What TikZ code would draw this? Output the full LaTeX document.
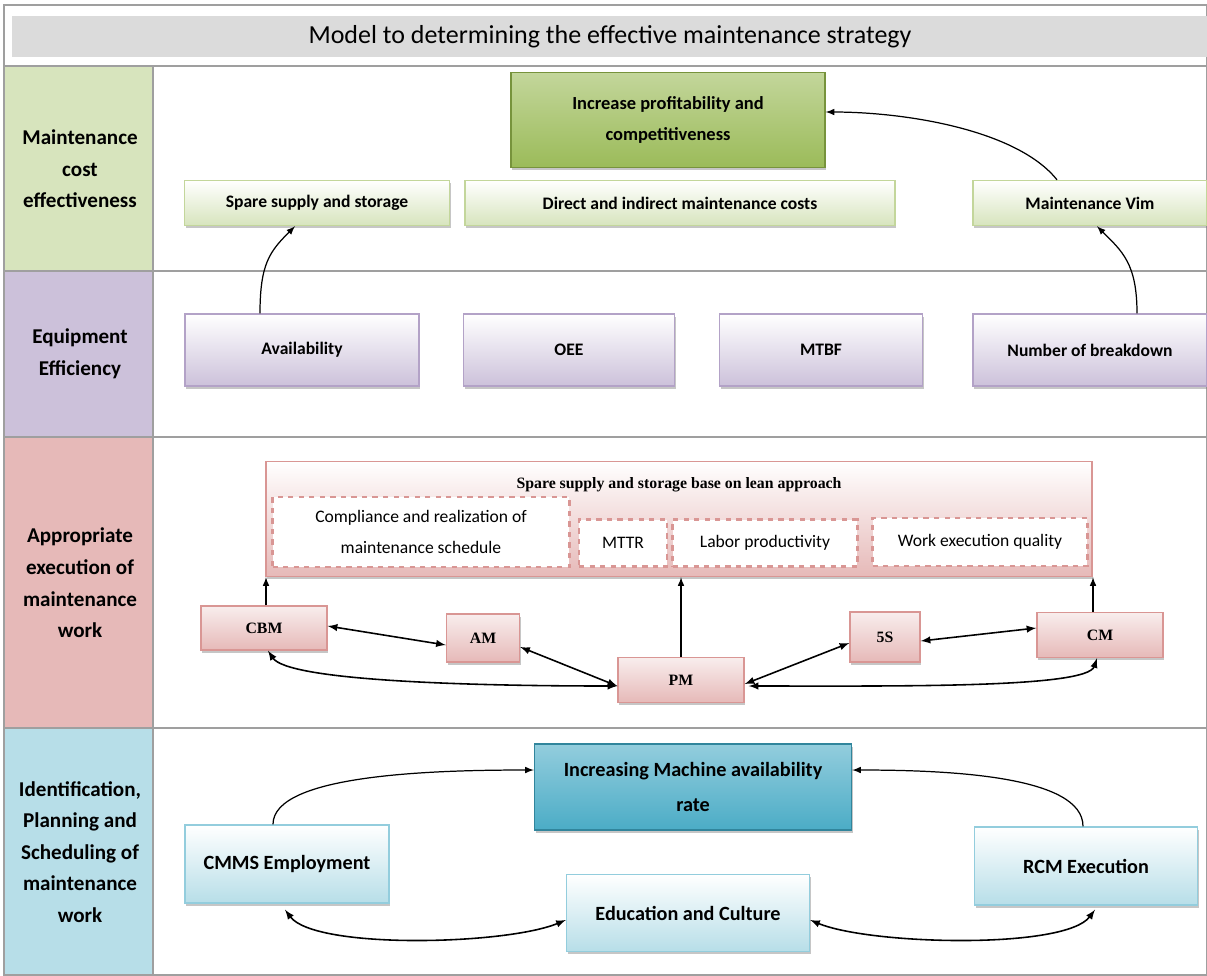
\documentclass[tikz,border=0pt]{standalone}
\usepackage{fontspec}
\setmainfont{Carlito}
\newfontfamily\timesfont{Liberation Serif}
\usetikzlibrary{calc,shadows}

\definecolor{GreenBand}{HTML}{D7E4BD}
\definecolor{GreenEdge}{HTML}{C3D69B}
\definecolor{GreenDark}{HTML}{9BBB59}
\definecolor{GreenLine}{HTML}{77933C}
\definecolor{PurpleBand}{HTML}{CCC1DA}
\definecolor{PurpleEdge}{HTML}{B3A2C7}
\definecolor{PinkBand}{HTML}{E6B9B8}
\definecolor{PinkLight}{HTML}{F2DCDB}
\definecolor{PinkEdge}{HTML}{D99694}
\definecolor{BlueBand}{HTML}{B7DEE8}
\definecolor{BlueEdge}{HTML}{93CDDD}
\definecolor{BlueDark}{HTML}{4BACC6}
\definecolor{BlueLine}{HTML}{31859C}

\tikzset{
  frame/.style={draw=gray!75, line width=1pt},
  boxshadow/.style={drop shadow={shadow xshift=0.6pt,shadow yshift=-1.6pt,opacity=0.45}},
  rowlabel/.style={align=center, font=\bfseries\fontsize{12}{18}\selectfont},
  greenbox/.style={draw=GreenEdge, line width=0.8pt, top color=white, bottom color=GreenBand, boxshadow,
    inner sep=2pt, font=\bfseries\fontsize{10}{12}\selectfont},
  purplebox/.style={draw=PurpleEdge, line width=0.8pt, top color=white, bottom color=PurpleBand, boxshadow,
    inner sep=2pt, font=\bfseries\fontsize{10}{12}\selectfont},
  pinkbox/.style={draw=PinkEdge, line width=0.8pt, top color=PinkLight!50, bottom color=PinkBand, boxshadow,
    inner sep=2pt, font=\timesfont\bfseries\fontsize{9}{11}\selectfont},
  dashbox/.style={draw=PinkEdge, dashed, line width=1.2pt, fill=white, inner sep=2pt,
    align=center, font=\fontsize{10}{18}\selectfont},
  bluebox/.style={draw=BlueEdge, line width=0.8pt, top color=white, bottom color=BlueBand, boxshadow,
    inner sep=2pt, font=\bfseries\fontsize{11.5}{14}\selectfont},
  link/.style={->, line width=0.7pt},
  dlink/.style={<->, line width=0.9pt}
}

\begin{document}
\begin{tikzpicture}[x=0.02cm,y=-0.02cm,>=latex]
\useasboundingbox (0,0) rectangle (1207,975);

% left column
\fill[GreenBand] (5,66) rectangle (153,271);
\fill[PurpleBand] (5,271) rectangle (153,437);
\fill[PinkBand] (5,437) rectangle (153,728);
\fill[BlueBand] (5,728) rectangle (153,975);

% frame and title
\draw[frame] (4,5) rectangle (1207,975);
\fill[gray!28] (12,16) rectangle (1207,57);
\node[font=\fontsize{14.8}{16}\selectfont] (title) at (610,37) {Model to determining the effective maintenance strategy};
\draw[frame] (4,66) -- (1207,66);
\draw[frame] (4,271) -- (1207,271);
\draw[frame] (4,437) -- (1207,437);
\draw[frame] (4,728) -- (1207,728);
\draw[frame] (153,66) -- (153,975);

\node[rowlabel] (row1) at (80,169) {Maintenance\\cost\\effectiveness};
\node[rowlabel] (row2) at (80,354) {Equipment\\Efficiency};
\node[rowlabel] (row3) at (80,583) {Appropriate\\execution of\\maintenance\\work};
\node[rowlabel] (row4) at (80,852) {Identification,\\Planning and\\Scheduling of\\maintenance\\work};

% cost effectiveness
\node[greenbox, draw=GreenLine, top color=GreenEdge, bottom color=GreenDark, align=center,
  font=\bfseries\fontsize{10.5}{18}\selectfont,
  minimum width=6.28cm, minimum height=1.9cm] (profit) at (668,120) {Increase profitability and\\competitiveness};
\node[greenbox, minimum width=5.3cm, minimum height=0.9cm] (spare) at (317,203) {Spare supply and storage};
\node[greenbox, minimum width=8.6cm, minimum height=0.9cm] (direct) at (680,203) {Direct and indirect maintenance costs};
\node[greenbox, minimum width=4.68cm, minimum height=0.9cm] (vim) at (1090,203) {Maintenance Vim};

% equipment efficiency
\node[purplebox, minimum width=4.68cm, minimum height=1.44cm] (avail) at (302,350) {Availability};
\node[purplebox, minimum width=4.22cm, minimum height=1.44cm] (oee) at (569,350) {OEE};
\node[purplebox, minimum width=4.06cm, minimum height=1.44cm] (mtbf) at (821,350) {MTBF};
\node[purplebox, minimum width=4.68cm, minimum height=1.44cm] (nbd) at (1090,350) {Number of breakdown};

\draw[link] ($(avail.north)+(-42,0)$) .. controls +(0,-50) and +(-25,25) .. ($(spare.south)+(-22,0)$);
\draw[link] ($(nbd.north)+(47,0)$) .. controls +(0,-50) and +(25,25) .. ($(vim.south)+(7,0)$);
\draw[link] ($(vim.north)+(-33,0)$) .. controls +(-40,-50) and +(80,0) .. ($(profit.east)+(0,-8)$);

% execution of maintenance work
\node[pinkbox, top color=white, minimum width=16.52cm, minimum height=2.3cm] (lean) at (679,519) {};
\node[font=\timesfont\bfseries\fontsize{9}{11}\selectfont] (leantitle) at (679,485) {Spare supply and storage base on lean approach};
\node[dashbox, minimum width=5.94cm, minimum height=1.4cm] (comp) at (421,532) {Compliance and realization of\\maintenance schedule};
\node[dashbox, minimum width=1.76cm, minimum height=0.94cm] (mttr) at (623,543) {MTTR};
\node[dashbox, minimum width=3.7cm, minimum height=0.94cm] (labor) at (765,543) {Labor productivity};
\node[dashbox, minimum width=4.3cm, minimum height=0.96cm] (work) at (980,542) {Work execution quality};

\node[pinkbox, minimum width=2.52cm, minimum height=0.88cm] (cbm) at (264,628) {CBM};
\node[pinkbox, minimum width=1.46cm, minimum height=0.96cm] (am) at (483,638) {AM};
\node[pinkbox, minimum width=2.52cm, minimum height=0.9cm] (pm) at (681,680) {PM};
\node[pinkbox, minimum width=1.4cm, minimum height=1cm] (fives) at (885,637) {5S};
\node[pinkbox, minimum width=2.52cm, minimum height=0.9cm] (cm) at (1100,635) {CM};

\draw[link] ($(cbm.north)+(2,0)$) -- ($(cbm.north |- lean.south)+(2,0)$);
\draw[link] (pm.north) -- (pm.north |- lean.south);
\draw[link] ($(cm.north)+(-7,0)$) -- ($(cm.north |- lean.south)+(-7,0)$);
\draw[dlink] ($(cbm.east)+(0,-2)$) -- ($(am.west)+(0,7)$);
\draw[dlink] ($(am.east)+(0,9)$) -- ($(pm.west)+(0,6)$);
\draw[dlink] ($(pm.east)+(0,4)$) -- ($(fives.west)+(0,6)$);
\draw[dlink] ($(fives.east)+(0,4)$) -- ($(cm.west)+(0,-7)$);
\draw[dlink] ($(cbm.south)+(4,0)$) .. controls +(20,30) and +(-150,0) .. ($(pm.west)+(0,6)$);
\draw[dlink] ($(pm.east)+(4,6)$) .. controls +(150,0) and +(-10,30) .. ($(cm.south)+(-3,0)$);

% identification, planning and scheduling
\node[bluebox, draw=BlueLine, top color=BlueEdge, bottom color=BlueDark, align=center,
  font=\bfseries\fontsize{11.5}{20}\selectfont,
  minimum width=6.34cm, minimum height=1.72cm] (incr) at (693,787) {Increasing Machine availability\\rate};
\node[bluebox, minimum width=4.08cm, minimum height=1.56cm] (cmms) at (287,864) {CMMS Employment};
\node[bluebox, minimum width=4.86cm, minimum height=1.54cm] (edu) at (688,913) {Education and Culture};
\node[bluebox, minimum width=4.46cm, minimum height=1.56cm] (rcm) at (1086,866) {RCM Execution};

\draw[link] ($(cmms.north)+(-14,0)$) .. controls +(0,-50) and +(-100,0) .. ($(incr.west)+(0,-17)$);
\draw[link] ($(rcm.north)+(-3,0)$) .. controls +(0,-50) and +(100,0) .. ($(incr.east)+(0,-17)$);
\draw[dlink] ($(cmms.south)+(-2,6)$) .. controls +(30,40) and +(-60,25) .. ($(edu.west)+(0,7)$);
\draw[dlink] ($(edu.east)+(0,7)$) .. controls +(60,25) and +(-30,40) .. ($(rcm.south)+(9,4)$);
\end{tikzpicture}
\end{document}
